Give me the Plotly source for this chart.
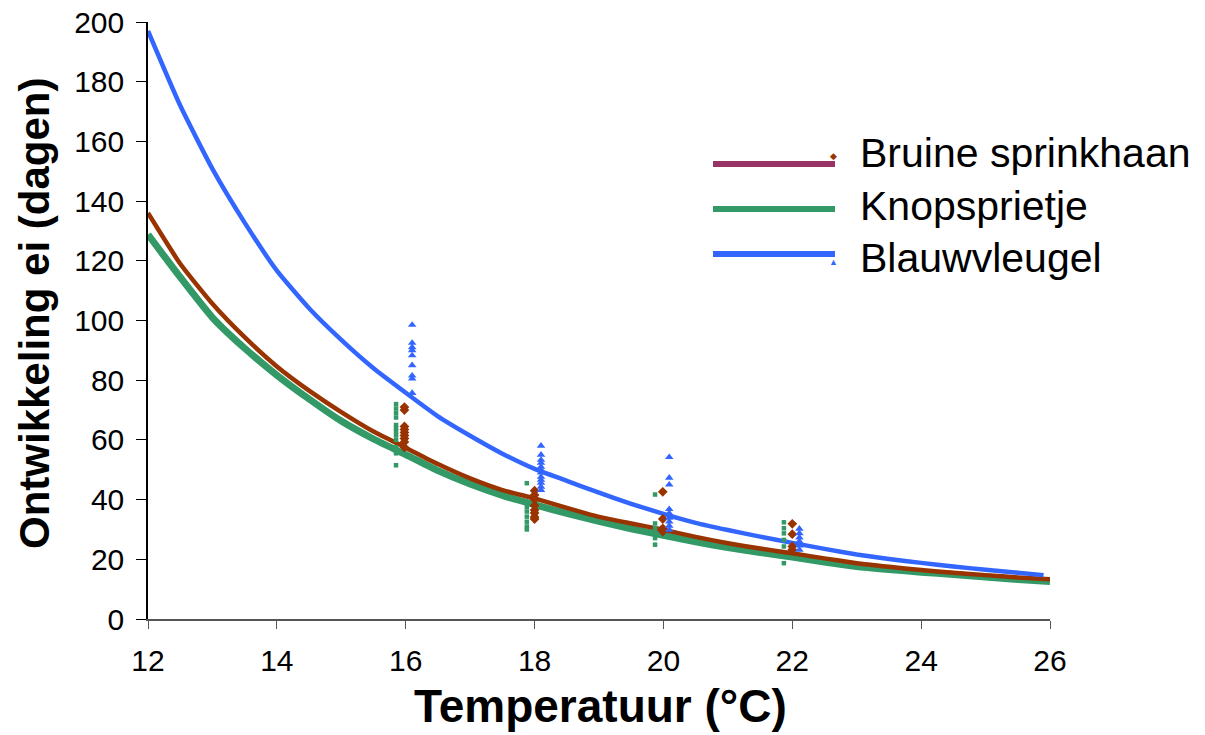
import plotly.graph_objects as go

# ---------------- data ----------------
temp = [12, 12.5, 13, 13.5, 14, 14.5, 15, 15.5, 16, 16.5, 17, 17.5, 18, 18.5, 19,
        19.5, 20, 20.5, 21, 21.5, 22, 22.5, 23, 23.5, 24, 24.5, 25, 25.5, 26]

bruine_curve = [136.0, 119.0, 105.6, 94.4, 84.6, 76.5, 69.3, 62.8, 57.4, 51.9, 47.1, 43.2,
                40.4, 37.2, 34.2, 32.0, 29.9, 27.5, 25.4, 23.6, 22.0, 20.3, 18.7, 17.5,
                16.4, 15.5, 14.7, 13.9, 13.3]
knop_curve = [128.8, 114.5, 101.0, 90.7, 81.7, 73.7, 66.3, 60.3, 55.1, 49.7, 45.2, 41.4,
              38.3, 35.4, 32.7, 30.2, 28.0, 25.9, 23.9, 22.3, 20.8, 19.1, 17.6, 16.6,
              15.7, 14.9, 14.1, 13.2, 12.6]
blauw_temp = temp[:-1] + [25.9]
blauw_curve = [197.0, 172.0, 150.8, 132.8, 116.7, 104.1, 93.5, 84.0, 75.8, 67.9, 61.4, 55.4,
               50.3, 46.3, 42.3, 38.6, 35.2, 32.2, 29.8, 27.6, 25.5, 23.5, 21.6, 20.1,
               18.8, 17.6, 16.5, 15.5, 14.7]

# observed points
knop_obs_t = [15.85] * 12 + [17.88] * 7 + [19.87] * 6 + [21.87] * 6
knop_obs = [72, 70.5, 69, 67.5, 65, 64, 62.8, 61.5, 60, 57.5, 55.5, 51.5,
            45.5, 37.5, 36, 34.3, 32.6, 31, 30,
            41.7, 32, 30.4, 28.7, 27.1, 24.9,
            32.4, 30.4, 28.7, 26.5, 24.3, 18.7]
bruine_obs_t = [15.98] * 9 + [18.0] * 8 + [19.99] * 4 + [22.0] * 4
bruine_obs = [71, 70, 64.5, 63.5, 62.5, 61.5, 60.5, 59.3, 57.5,
              43, 41.5, 40, 38, 36.5, 35.5, 34.2, 33.5,
              42.6, 33.5, 30.4, 29.3,
              31.9, 28.4, 24.3, 23.2]
blauw_obs_t = [16.1] * 9 + [18.1] * 12 + [20.09] * 9 + [22.11] * 6
blauw_obs = [98.5, 92.5, 91, 90, 88.3, 85, 81.5, 80.5, 75.7,
             58, 55, 53.3, 52.3, 51, 50, 49, 47.6, 46.6, 45.6, 44.3, 43.2,
             54.2, 47.3, 45.0, 36.8, 35.4, 33.9, 32.6, 31.2, 29.9,
             30.2, 28.7, 27.3, 26.0, 24.6, 23.2]

series_names = ["Bruine sprinkhaan", "Knopsprietje", "Blauwvleugel"]
x_ticks = [12, 14, 16, 18, 20, 22, 24, 26]
y_ticks = [0, 20, 40, 60, 80, 100, 120, 140, 160, 180, 200]

BROWN = "#993300"
PURPLE = "#993366"
GREEN = "#339966"
BLUE = "#3366FF"

FONT = "Liberation Sans, Arial, sans-serif"

fig = go.Figure()
fig.add_trace(go.Scatter(x=temp, y=knop_curve, mode="lines",
                         line=dict(color=GREEN, width=7, shape="spline", smoothing=0.5),
                         showlegend=False))
fig.add_trace(go.Scatter(x=temp, y=bruine_curve, mode="lines",
                         line=dict(color=BROWN, width=4.5, shape="spline", smoothing=0.5),
                         showlegend=False))
fig.add_trace(go.Scatter(x=blauw_temp, y=blauw_curve, mode="lines",
                         line=dict(color=BLUE, width=4.5, shape="spline", smoothing=0.5),
                         showlegend=False))
fig.add_trace(go.Scatter(x=knop_obs_t, y=knop_obs, mode="markers",
                         marker=dict(symbol="square", size=4.5, color=GREEN),
                         showlegend=False))
fig.add_trace(go.Scatter(x=bruine_obs_t, y=bruine_obs, mode="markers",
                         marker=dict(symbol="diamond", size=7.5, color=BROWN),
                         showlegend=False))
fig.add_trace(go.Scatter(x=blauw_obs_t, y=blauw_obs, mode="markers",
                         marker=dict(symbol="triangle-up", size=7.5, color=BLUE),
                         showlegend=False))

# plot area in pixels: x 148..1050, y 22..619
L, R, T, B = 148, 1050, 22, 619
W, H = R - L, B - T


def px(xp):
    return (xp - L) / W


def py(yp):
    return (B - yp) / H


shapes = []
annotations = []
legend_rows = [(164, 153, PURPLE), (209, 206, GREEN), (254, 258, BLUE)]
for name, (ly, ty, col) in zip(series_names, legend_rows):
    shapes.append(dict(type="line", xref="paper", yref="paper",
                       x0=px(713), x1=px(835), y0=py(ly), y1=py(ly),
                       line=dict(color=col, width=6)))
    annotations.append(dict(text=name, xref="paper", yref="paper",
                            x=px(858), y=py(ty), xanchor="left", yanchor="middle",
                            showarrow=False,
                            font=dict(family=FONT, size=41, color="black")))
annotations.append(dict(text="◆", xref="paper", yref="paper", x=px(833), y=py(156),
                        xanchor="center", yanchor="middle",
                        showarrow=False, font=dict(size=9, color=BROWN)))
annotations.append(dict(text="▲", xref="paper", yref="paper", x=px(833), y=py(262),
                        xanchor="center", yanchor="middle",
                        showarrow=False, font=dict(size=9, color=BLUE)))

annotations.append(dict(text="<b>Temperatuur (°C)</b>", xref="paper", yref="paper",
                        x=px(600), y=py(706), xanchor="center", yanchor="middle",
                        showarrow=False,
                        font=dict(family=FONT, size=46, color="black")))
annotations.append(dict(text="<b>Ontwikkeling ei (dagen)</b>", xref="paper", yref="paper",
                        x=px(34), y=py(314), xanchor="center", yanchor="middle",
                        showarrow=False, textangle=-90,
                        font=dict(family=FONT, size=42, color="black")))

fig.update_layout(
    width=1205, height=735,
    margin=dict(l=L, r=1205 - R, t=T, b=735 - B, autoexpand=False),
    paper_bgcolor="white", plot_bgcolor="white",
    shapes=shapes, annotations=annotations,
    showlegend=False,
    font=dict(family=FONT, color="black"),
)
fig.update_xaxes(range=[12, 26], tickvals=x_ticks, ticktext=[str(v) for v in x_ticks],
                 showgrid=False, zeroline=False, showline=True, linecolor="#555555",
                 linewidth=2, ticks="outside", ticklen=8, tickcolor="#555555",
                 tickfont=dict(family=FONT, size=30, color="black"),
                 ticklabelstandoff=6, automargin=False)
fig.update_yaxes(range=[0, 200], tickvals=y_ticks, ticktext=[str(v) for v in y_ticks],
                 showgrid=False, zeroline=False, showline=True, linecolor="black",
                 linewidth=1.5, ticks="outside", ticklen=10, tickcolor="black",
                 tickfont=dict(family=FONT, size=30, color="black"),
                 ticklabelstandoff=6, automargin=False)

fig.write_html("out.html")
